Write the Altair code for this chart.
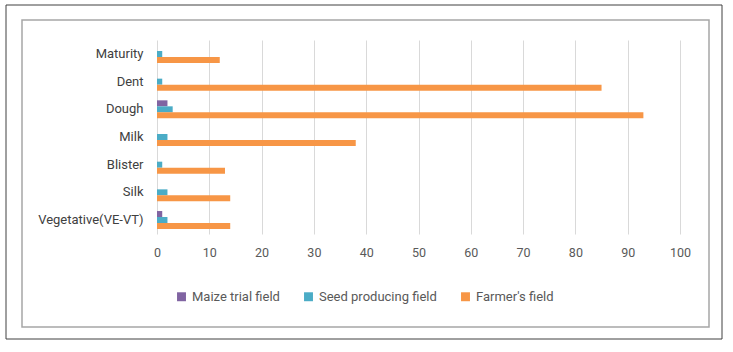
import altair as alt
import pandas as pd

stages = ["Maturity", "Dent", "Dough", "Milk", "Blister", "Silk", "Vegetative(VE-VT)"]
series = ["Maize trial field", "Seed producing field", "Farmer's field"]
maize = [0, 0, 2, 0, 0, 0, 1]
seed = [1, 1, 3, 2, 1, 2, 2]
farmer = [12, 85, 93, 38, 13, 14, 14]
colors = ["#8064A2", "#4BACC6", "#F79646"]
x_ticks = [0, 10, 20, 30, 40, 50, 60, 70, 80, 90, 100]

rows = []
for i, s in enumerate(stages):
    for name, vals in zip(series, [maize, seed, farmer]):
        rows.append({"Stage": s, "Series": name, "Value": vals[i]})
df = pd.DataFrame(rows)

FONT = "Roboto"
W, H = 523, 194
PL, PT = 157, 40

bars = alt.Chart(df).mark_bar().encode(
    y=alt.Y("Stage:N", sort=stages, title=None,
            scale=alt.Scale(paddingInner=0.35, paddingOuter=0.18),
            axis=alt.Axis(domain=False, ticks=False, labelPadding=14,
                          labelFontSize=13, labelColor="#404040", labelFont=FONT)),
    x=alt.X("Value:Q", title=None,
            scale=alt.Scale(domain=[0, 100], nice=False),
            axis=alt.Axis(values=x_ticks, domain=False, ticks=False, grid=True,
                          gridColor="#D9D9D9", labelPadding=12, labelFlush=False,
                          labelFontSize=12.5, labelColor="#595959", labelFont=FONT)),
    yOffset=alt.YOffset("Series:N", sort=series),
    color=alt.Color("Series:N", sort=series,
                    scale=alt.Scale(domain=series, range=colors),
                    legend=alt.Legend(title=None, orient="none", direction="horizontal",
                                      legendX=18, legendY=250, symbolType="square",
                                      symbolSize=80, symbolStrokeWidth=0,
                                      labelFontSize=13, labelColor="#595959",
                                      labelFont=FONT, columnPadding=22,
                                      symbolOpacity=1)),
)

outer = alt.Chart(pd.DataFrame({"a": [0]})).mark_rect(
    fill=None, stroke="#404040", strokeWidth=1
).encode(x=alt.value(6 - PL), x2=alt.value(722 - PL), y=alt.value(5 - PT), y2=alt.value(339 - PT))

inner = alt.Chart(pd.DataFrame({"a": [0]})).mark_rect(
    fill=None, stroke="#A6A6A6", strokeWidth=1.5
).encode(x=alt.value(22 - PL), x2=alt.value(709 - PL), y=alt.value(20 - PT), y2=alt.value(327 - PT))

chart = alt.layer(outer, inner, bars).properties(
    width=W, height=H,
    autosize=alt.AutoSizeParams(type="none"),
    padding={"left": PL, "top": PT, "right": 733 - PL - W, "bottom": 352 - PT - H},
    background="white",
).configure_view(stroke=None)

chart.save("out.html", embed_options={"renderer": "svg", "actions": False})
